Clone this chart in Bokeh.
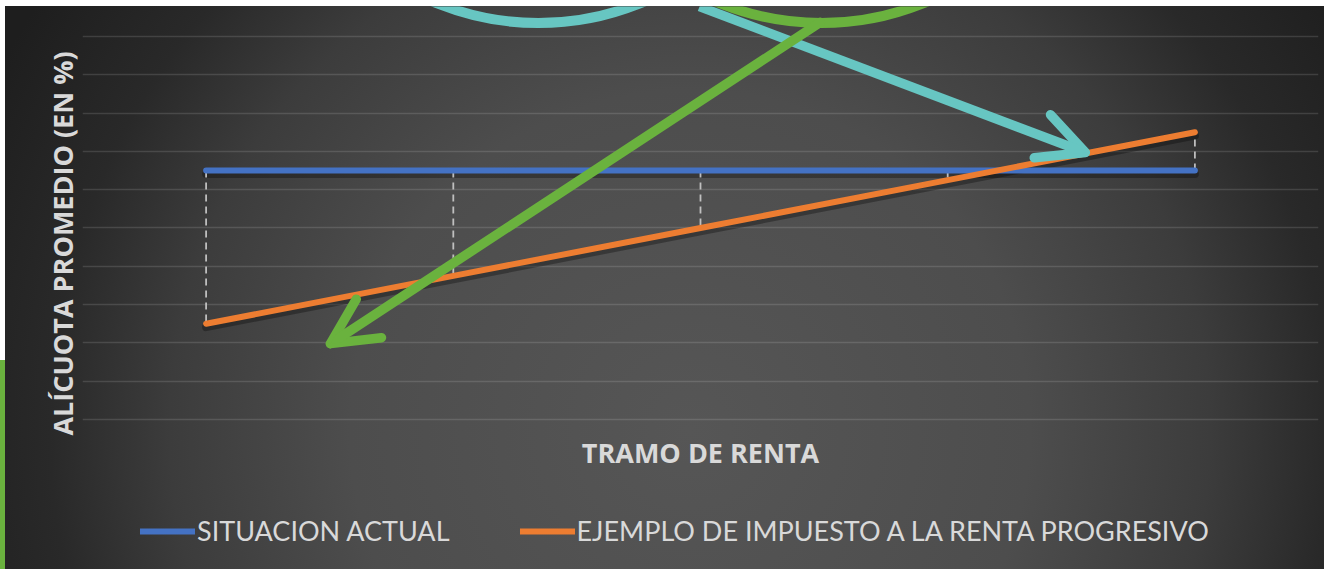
from bokeh.plotting import figure
from bokeh.layouts import column
from bokeh.models import Range1d, FixedTicker, Legend, LegendItem, Arrow, OpenHead
from bokeh.embed import file_html
from bokeh.resources import INLINE

# ---------------- data ----------------
tramos = [1, 2, 3, 4, 5]                       # tramos de renta (categorías, sin rótulo)
situacion_actual = [6.5, 6.5, 6.5, 6.5, 6.5]    # alícuota promedio actual (%)
impuesto_progresivo = [2.5, 3.75, 5.0, 6.25, 7.5]  # ejemplo progresivo (%)
grid_ticks = [0, 1, 2, 3, 4, 5, 6, 7, 8, 9, 10]
series_names = ["SITUACION ACTUAL", "EJEMPLO DE IMPUESTO A LA RENTA PROGRESIVO"]

# decorative annotations (data coordinates)
teal_arrow = dict(x_start=2.996, y_start=10.78, x_end=4.557, y_end=6.97)
green_arrow = dict(x_start=3.485, y_start=10.37, x_end=1.503, y_end=1.98)
ring_x = [2.345, 3.49]
ring_y = [17.4, 17.4]

# ---------------- style ----------------
BLUE = "#4472C4"
ORANGE = "#ED7D31"
TEAL = "#67C6C2"
GREEN = "#6AB23E"
TXT = "#d9d9d9"

p = figure(frame_width=1236, frame_height=474, output_backend="svg", toolbar_location=None,
           x_range=Range1d(0.5, 5.5), y_range=Range1d(-1.593, 10.783),
           min_border_left=82, min_border_right=6, min_border_top=6,
           min_border_bottom=0, title=None)
p.background_fill_alpha = 0
p.border_fill_alpha = 0
p.outline_line_color = None

p.xgrid.visible = False
p.ygrid.ticker = FixedTicker(ticks=grid_ticks)
p.ygrid.grid_line_color = "white"
p.ygrid.grid_line_alpha = 0.13
p.ygrid.grid_line_width = 1.3

for ax in (p.xaxis[0], p.yaxis[0]):
    ax.ticker = FixedTicker(ticks=[])
    ax.axis_line_color = None
    ax.major_tick_line_color = None
    ax.minor_tick_line_color = None
    ax.major_tick_out = 0
    ax.major_tick_in = 0
    ax.axis_label_text_font = "Open Sans"
    ax.axis_label_text_font_style = "bold"
    ax.axis_label_text_font_size = "27px"
    ax.axis_label_text_color = TXT

p.xaxis.axis_label = "TRAMO DE RENTA"
p.xaxis.axis_label_standoff = -47
p.yaxis.axis_label = "ALÍCUOTA PROMEDIO (EN %)"
p.yaxis.axis_label_standoff = 2

# shadows
p.line(tramos, [v - 0.09 for v in situacion_actual], line_color="black",
       line_alpha=0.3, line_width=8, line_cap="round")
p.line(tramos, [v - 0.09 for v in impuesto_progresivo], line_color="black",
       line_alpha=0.3, line_width=8, line_cap="round")

# high-low drop lines
p.segment(x0=tramos, y0=situacion_actual, x1=tramos, y1=impuesto_progresivo,
          line_color="#cccccc", line_alpha=0.9, line_width=1.8, line_dash="7 5")

p.line(tramos, situacion_actual, line_color=BLUE, line_width=6, line_cap="round")
p.line(tramos, impuesto_progresivo, line_color=ORANGE, line_width=6, line_cap="round")

# rings at top
p.scatter(ring_x, ring_y, marker="circle", size=540, fill_alpha=0,
          line_color=[TEAL, GREEN], line_width=10)

for spec, col, cap in ((teal_arrow, TEAL, "butt"), (green_arrow, GREEN, "round")):
    p.add_layout(Arrow(end=OpenHead(size=46, line_color=col, line_width=9.5,
                                    line_cap="round", line_join="round"),
                       line_color=col, line_width=9.5, line_cap=cap, **spec))

# ---------------- legend strip (below the chart) ----------------
pl = figure(width=1324, height=89, output_backend="svg", toolbar_location=None,
            x_range=p.x_range, y_range=Range1d(0, 1), min_border=0,
            x_axis_location=None, y_axis_location=None, title=None)
pl.background_fill_alpha = 0
pl.border_fill_alpha = 0
pl.outline_line_color = None
pl.grid.visible = False
l1 = pl.line(tramos, situacion_actual, line_color=BLUE, line_width=6, line_cap="round")
l2 = pl.line(tramos, impuesto_progresivo, line_color=ORANGE, line_width=6, line_cap="round")

legend = Legend(items=[LegendItem(label=series_names[0], renderers=[l1]),
                       LegendItem(label=series_names[1], renderers=[l2])],
                orientation="horizontal", location=(58, 22),
                label_text_font="Lato", label_text_font_size="27px",
                label_text_color=TXT, glyph_width=55, glyph_height=30,
                label_standoff=2, spacing=70, padding=0, margin=0,
                background_fill_alpha=0, border_line_color=None)
pl.add_layout(legend)

layout = column(p, pl, spacing=0)
layout.styles = {"background": (
    "linear-gradient(#ffffff, #ffffff) 0 0 / 100% 6px no-repeat, "
    "linear-gradient(to bottom, #ffffff 0px, #ffffff 360px, #6AB23E 360px, #6AB23E 100%) "
    "0 0 / 5px 100% no-repeat, "
    "radial-gradient(circle at 690px 430px, #565656 0px, #4d4d4d 340px, "
    "#3c3c3c 520px, #292929 640px, #1e1e1e 780px)")}

open("out.html", "w").write(file_html(layout, INLINE))
